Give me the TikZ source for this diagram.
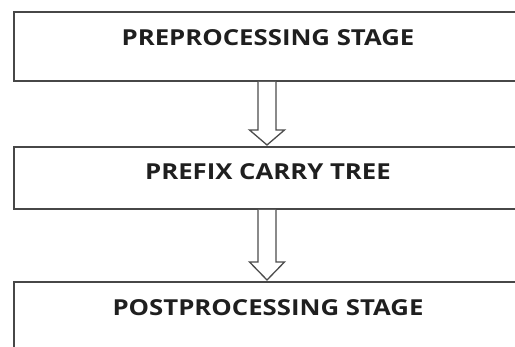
\documentclass[tikz,border=0pt]{standalone}
\usepackage{fontspec}
\setmainfont{Open Sans}
\usetikzlibrary{calc}
\begin{document}
\begin{tikzpicture}[x=1pt,y=-1pt]
\tikzset{
  box/.style={draw=black!72, line width=1.8pt, fill=white, inner sep=0pt, anchor=north west, minimum width=540pt},
  lbl/.style={font=\bfseries\fontsize{22}{26}\selectfont, text=black!88, inner sep=0pt},
  hollow/.style={draw=black!70, line width=1.3pt, fill=white, line join=miter}
}
\useasboundingbox (0,0) rectangle (515,347);
\clip (0,0) rectangle (515,347);
\fill[white] (0,0) rectangle (515,347);
\node[box, minimum height=69pt] (b1) at (13,11) {};
\node[box, minimum height=62pt] (b2) at (13,146) {};
\node[box, minimum height=100pt] (b3) at (13,281) {};
\node[lbl] (t1) at (268,37.5) {\scalebox{1.17}[1]{PREPROCESSING STAGE}};
\node[lbl] (t2) at (268,171.5) {\scalebox{1.17}[1]{PREFIX CARRY TREE}};
\node[lbl] (t3) at (268,307.5) {\scalebox{1.17}[1]{POSTPROCESSING STAGE}};
% hollow arrows
\coordinate (a1s) at ($(b1.south west)+(254,0)$);
\coordinate (a1e) at ($(b2.north west)+(254,0)$);
\coordinate (a2s) at ($(b2.south west)+(254,0)$);
\coordinate (a2e) at ($(b3.north west)+(254,0)$);
\draw[hollow] ($(a1s)+(-9,0)$) -- ($(a1e)+(-9,-16)$) -- ($(a1e)+(-17.5,-16)$) -- ($(a1e)+(0,-1)$)
  -- ($(a1e)+(17.5,-16)$) -- ($(a1e)+(9,-16)$) -- ($(a1s)+(9,0)$);
\draw[hollow] ($(a2s)+(-9,0)$) -- ($(a2e)+(-9,-19)$) -- ($(a2e)+(-17.5,-19)$) -- ($(a2e)+(0,-1)$)
  -- ($(a2e)+(17.5,-19)$) -- ($(a2e)+(9,-19)$) -- ($(a2s)+(9,0)$);
\end{tikzpicture}
\end{document}
